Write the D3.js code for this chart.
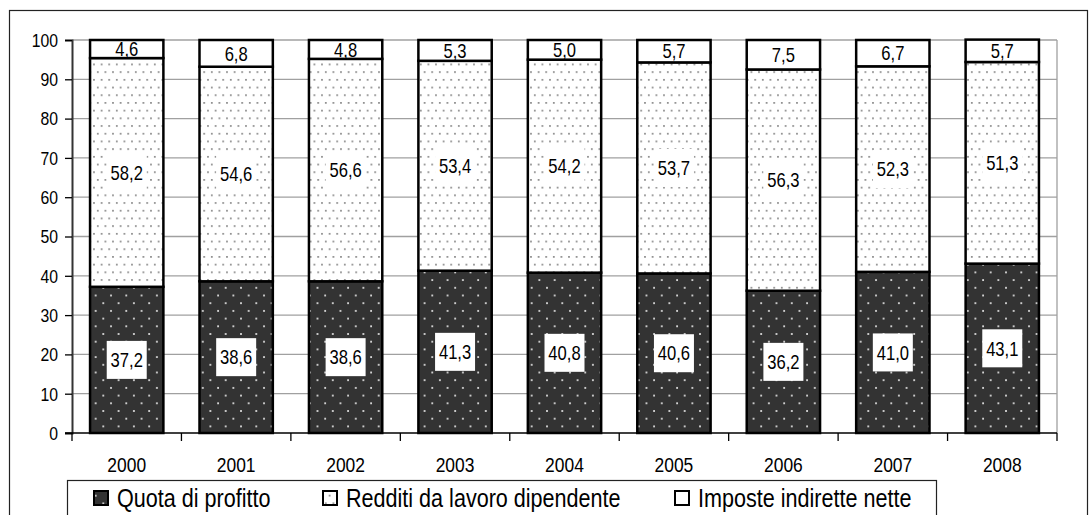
<!DOCTYPE html>
<html>
<head>
<meta charset="utf-8">
<script src="https://cdn.jsdelivr.net/npm/d3@7"></script>
<style>
  body { margin: 0; background: #fff; }
  text { font-family: "Liberation Sans", Arial, sans-serif; fill: #000; }
</style>
</head>
<body>
<script>
// data
var years = ["2000", "2001", "2002", "2003", "2004", "2005", "2006", "2007", "2008"];
var profitto = [37.2, 38.6, 38.6, 41.3, 40.8, 40.6, 36.2, 41.0, 43.1];
var redditi = [58.2, 54.6, 56.6, 53.4, 54.2, 53.7, 56.3, 52.3, 51.3];
var imposte = [4.6, 6.8, 4.8, 5.3, 5.0, 5.7, 7.5, 6.7, 5.7];
var seriesNames = ["Quota di profitto", "Redditi da lavoro dipendente", "Imposte indirette nette"];
var yTicks = [0, 10, 20, 30, 40, 50, 60, 70, 80, 90, 100];

var W = 1089, H = 515;
var plotLeft = 72, plotRight = 1057, plotTop = 40, plotBottom = 433;
var squeeze = 0.83; // the chart uses a narrow font

var svg = d3.select("body").append("svg")
    .attr("width", W)
    .attr("height", H);

// place a narrow-looking text at (px, py)
function placeText(g, px, py) {
  return g.append("text")
      .attr("transform", "translate(" + px + "," + py + ") scale(" + squeeze + ",1)");
}

var defs = svg.append("defs");
// dark dotted pattern
var pd = defs.append("pattern").attr("id", "pdark")
    .attr("patternUnits", "userSpaceOnUse")
    .attr("width", 15.3).attr("height", 15.4);
pd.append("rect").attr("width", 15.3).attr("height", 15.4).attr("fill", "#333");
pd.append("rect").attr("x", 3).attr("y", 2).attr("width", 1.8).attr("height", 1.8).attr("fill", "#ddd");
pd.append("rect").attr("x", 10.6).attr("y", 9.7).attr("width", 1.8).attr("height", 1.8).attr("fill", "#ddd");
// light dotted pattern (denser)
var pl = defs.append("pattern").attr("id", "plight")
    .attr("patternUnits", "userSpaceOnUse")
    .attr("width", 7.6).attr("height", 15.4);
pl.append("rect").attr("width", 7.6).attr("height", 15.4).attr("fill", "#fff");
pl.append("rect").attr("x", 2).attr("y", 2).attr("width", 1.6).attr("height", 1.6).attr("fill", "#777");
pl.append("rect").attr("x", 5.8).attr("y", 9.7).attr("width", 1.6).attr("height", 1.6).attr("fill", "#777");

var fills = ["url(#pdark)", "url(#plight)", "#fff"];

// outer frame
svg.append("rect")
    .attr("x", 9.5).attr("y", 10.5)
    .attr("width", 1078).attr("height", 520)
    .attr("fill", "none").attr("stroke", "#222").attr("stroke-width", 1.2);

var x = d3.scaleBand().domain(years).range([plotLeft, plotRight])
    .paddingInner(0.33).paddingOuter(0.165);
var y = d3.scaleLinear().domain([0, 100]).range([plotBottom, plotTop]);

// gridlines
svg.append("g").selectAll("line")
    .data(yTicks.slice(1))
  .enter().append("line")
    .attr("x1", plotLeft).attr("x2", plotRight)
    .attr("y1", function(d) { return y(d); })
    .attr("y2", function(d) { return y(d); })
    .attr("stroke", "#a0a0a0").attr("stroke-width", 1.3);

// right border of plot area
svg.append("line")
    .attr("x1", plotRight).attr("x2", plotRight)
    .attr("y1", plotTop).attr("y2", plotBottom)
    .attr("stroke", "#a0a0a0").attr("stroke-width", 1.3);

// stacked data
var rows = years.map(function(yr, i) {
  return { year: yr, vals: [profitto[i], redditi[i], imposte[i]] };
});
var segs = [];
rows.forEach(function(r) {
  var base = 0;
  r.vals.forEach(function(v, k) {
    segs.push({ year: r.year, k: k, y0: base, y1: base + v, v: v });
    base += v;
  });
});

svg.append("g").selectAll("rect")
    .data(segs)
  .enter().append("rect")
    .attr("x", function(d) { return x(d.year); })
    .attr("width", x.bandwidth())
    .attr("y", function(d) { return y(d.y1); })
    .attr("height", function(d) { return y(d.y0) - y(d.y1); })
    .attr("fill", function(d) { return fills[d.k]; })
    .attr("stroke", "#000").attr("stroke-width", 2.5);

// labels
function fmt(v) { return v.toFixed(1).replace(".", ","); }

var labG = svg.append("g");
segs.forEach(function(d) {
  var cx = x(d.year) + x.bandwidth() / 2, cy = y((d.y0 + d.y1) / 2);
  if (d.k < 2) {
    labG.append("rect")
        .attr("x", cx - 20).attr("y", cy - 19)
        .attr("width", 40).attr("height", 38)
        .attr("fill", "#fff");
  }
  placeText(labG, cx, cy)
      .attr("text-anchor", "middle")
      .attr("dy", "0.36em")
      .style("font-size", "20px")
      .text(fmt(d.v));
});

// y axis
var ya = svg.append("g").attr("transform", "translate(" + plotLeft + ",0)")
    .call(d3.axisLeft(y).tickValues(yTicks).tickSize(7).tickPadding(8));
ya.select(".domain").attr("stroke", "#333").attr("stroke-width", 2);
ya.selectAll(".tick line").attr("stroke", "#000").attr("stroke-width", 1.3);
ya.selectAll("text").remove();
yTicks.forEach(function(t) {
  placeText(svg, plotLeft - 14, y(t))
      .attr("text-anchor", "end")
      .attr("dy", "0.36em")
      .style("font-size", "19px")
      .text(t);
});

// x axis line and ticks between categories
svg.append("line")
    .attr("x1", plotLeft - 7).attr("x2", plotRight)
    .attr("y1", plotBottom).attr("y2", plotBottom)
    .attr("stroke", "#000").attr("stroke-width", 1.5);
var bounds = d3.range(years.length + 1).map(function(i) { return plotLeft + i * x.step(); });
svg.append("g").selectAll("line")
    .data(bounds)
  .enter().append("line")
    .attr("x1", function(d) { return d; }).attr("x2", function(d) { return d; })
    .attr("y1", plotBottom).attr("y2", plotBottom + 8)
    .attr("stroke", "#000").attr("stroke-width", 1.3);
years.forEach(function(yr) {
  placeText(svg, x(yr) + x.bandwidth() / 2, 472)
      .attr("text-anchor", "middle")
      .style("font-size", "21px")
      .text(yr);
});

// legend
svg.append("rect")
    .attr("x", 67.5).attr("y", 480.5)
    .attr("width", 869).attr("height", 50)
    .attr("fill", "#fff").attr("stroke", "#222").attr("stroke-width", 1.2);
var legX = [94, 323, 675];
seriesNames.forEach(function(name, i) {
  svg.append("rect")
      .attr("x", legX[i]).attr("y", 491)
      .attr("width", 14).attr("height", 14)
      .attr("fill", fills[i])
      .attr("stroke", "#000").attr("stroke-width", 2);
  placeText(svg, legX[i] + 23, 507)
      .style("font-size", "26px")
      .text(name);
});
</script>
</body>
</html>
